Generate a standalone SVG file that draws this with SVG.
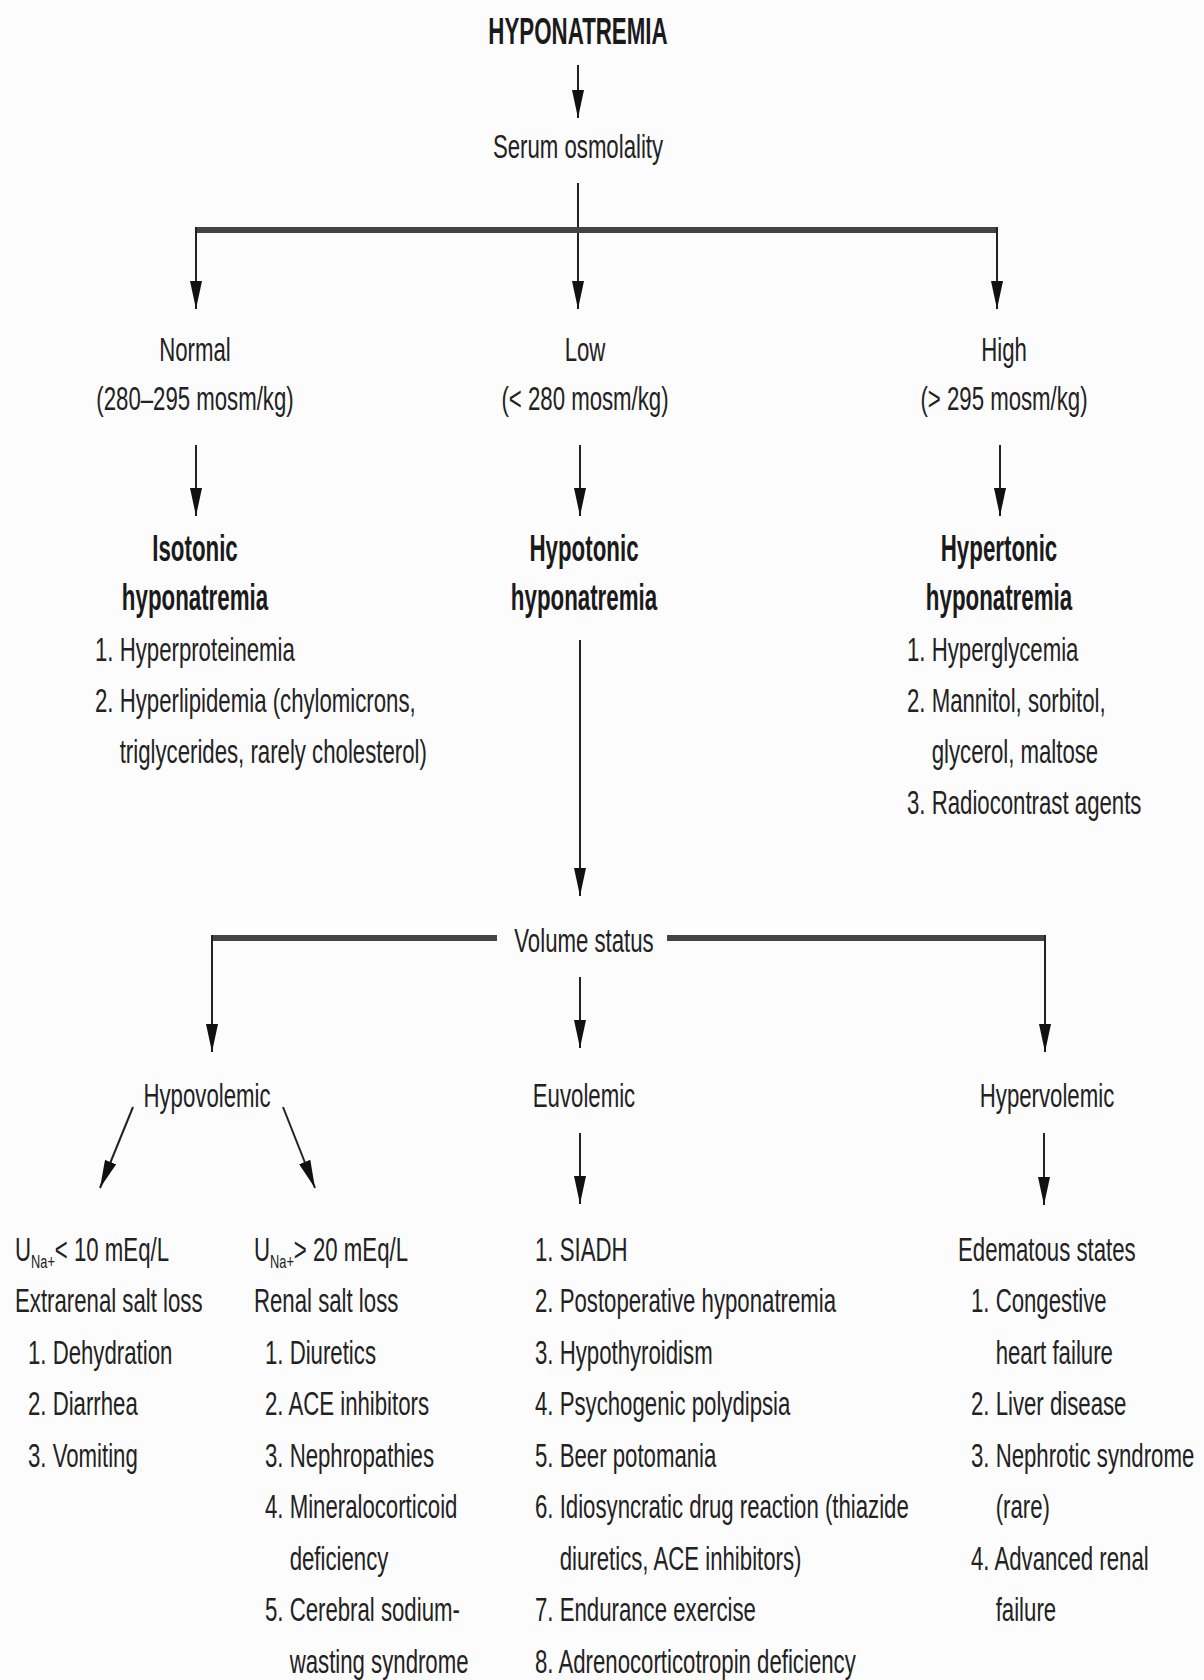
<svg xmlns="http://www.w3.org/2000/svg" width="1204" height="1680" viewBox="0 0 1204 1680">
<style>
.t{font-family:"Liberation Sans",Arial,sans-serif;font-size:33px;fill:#222}
.b{font-family:"Liberation Sans",Arial,sans-serif;font-size:36px;font-weight:bold;fill:#1a1a1a;text-anchor:middle}
.c{text-anchor:middle}
.sub{font-size:19px}
.ln{stroke:#222;stroke-width:2;fill:none}
.ar{stroke:#222;stroke-width:2;fill:none;marker-end:url(#ah)}
.bar{stroke:#444;stroke-width:6;fill:none}
</style>
<defs>
<marker id="ah" markerUnits="userSpaceOnUse" markerWidth="30" markerHeight="12" refX="28" refY="6" orient="auto">
<path d="M0,0 L28,6 L0,12 Z" fill="#111"/>
</marker>
</defs>
<rect width="1204" height="1680" fill="#fdfcfd"/>

<g id="connectors">
<line class="ar" x1="578" y1="65" x2="578" y2="118"/>
<line class="ar" x1="578" y1="183" x2="578" y2="309"/>
<line class="bar" x1="196" y1="230" x2="997" y2="230"/>
<line class="ar" x1="196" y1="227" x2="196" y2="309"/>
<line class="ar" x1="997" y1="227" x2="997" y2="309"/>
<line class="ar" x1="196" y1="445" x2="196" y2="516"/>
<line class="ar" x1="580" y1="445" x2="580" y2="516"/>
<line class="ar" x1="1000" y1="445" x2="1000" y2="516"/>
<line class="ar" x1="580" y1="640" x2="580" y2="896"/>
<line class="bar" x1="212" y1="938" x2="497" y2="938"/>
<line class="bar" x1="667" y1="938" x2="1045" y2="938"/>
<line class="ar" x1="212" y1="935" x2="212" y2="1052"/>
<line class="ar" x1="1045" y1="935" x2="1045" y2="1052"/>
<line class="ar" x1="580" y1="977" x2="580" y2="1048"/>
<line class="ar" x1="133" y1="1107" x2="100" y2="1188"/>
<line class="ar" x1="283" y1="1107" x2="315" y2="1188"/>
<line class="ar" x1="580" y1="1133" x2="580" y2="1204"/>
<line class="ar" x1="1044" y1="1133" x2="1044" y2="1205"/>
</g>

<g id="hyponatremia" transform="translate(578,0) scale(0.62,1)">
<text class="b" x="0" y="44">HYPONATREMIA</text>
</g>
<g id="serum-osmolality" transform="translate(578,0) scale(0.673,1)">
<text class="t c" x="0" y="158">Serum osmolality</text>
</g>
<g id="normal" transform="translate(195,0) scale(0.673,1)">
<text class="t c" x="0" y="361">Normal</text>
<text class="t c" x="0" y="410">(280–295 mosm/kg)</text>
</g>
<g id="low" transform="translate(585,0) scale(0.673,1)">
<text class="t c" x="0" y="361">Low</text>
<text class="t c" x="0" y="410">(&lt; 280 mosm/kg)</text>
</g>
<g id="high" transform="translate(1004,0) scale(0.673,1)">
<text class="t c" x="0" y="361">High</text>
<text class="t c" x="0" y="410">(&gt; 295 mosm/kg)</text>
</g>

<g id="isotonic">
<g transform="translate(195,0) scale(0.62,1)">
<text class="b" x="0" y="561">Isotonic</text>
<text class="b" x="0" y="610">hyponatremia</text>
</g>
<g transform="translate(95,0) scale(0.673,1)">
<text class="t" x="0" y="661">1. Hyperproteinemia</text>
<text class="t" x="0" y="712">2. Hyperlipidemia (chylomicrons,</text>
<text class="t" x="36.7" y="763">triglycerides, rarely cholesterol)</text>
</g>
</g>

<g id="hypotonic" transform="translate(584,0) scale(0.62,1)">
<text class="b" x="0" y="561">Hypotonic</text>
<text class="b" x="0" y="610">hyponatremia</text>
</g>

<g id="hypertonic">
<g transform="translate(999,0) scale(0.62,1)">
<text class="b" x="0" y="561">Hypertonic</text>
<text class="b" x="0" y="610">hyponatremia</text>
</g>
<g transform="translate(907,0) scale(0.673,1)">
<text class="t" x="0" y="661">1. Hyperglycemia</text>
<text class="t" x="0" y="712">2. Mannitol, sorbitol,</text>
<text class="t" x="36.7" y="763">glycerol, maltose</text>
<text class="t" x="0" y="814">3. Radiocontrast agents</text>
</g>
</g>

<g id="volume-status" transform="translate(584,0) scale(0.673,1)">
<text class="t c" x="0" y="952">Volume status</text>
</g>
<g id="hypovolemic" transform="translate(207,0) scale(0.673,1)">
<text class="t c" x="0" y="1107">Hypovolemic</text>
</g>
<g id="euvolemic" transform="translate(584,0) scale(0.673,1)">
<text class="t c" x="0" y="1107">Euvolemic</text>
</g>
<g id="hypervolemic" transform="translate(1047,0) scale(0.673,1)">
<text class="t c" x="0" y="1107">Hypervolemic</text>
</g>

<g id="extrarenal" transform="translate(15,0) scale(0.673,1)">
<text class="t" x="0" y="1261">U<tspan class="sub" dy="7">Na+</tspan><tspan dy="-7">&lt; 10 mEq/L</tspan></text>
<text class="t" x="0" y="1312.5">Extrarenal salt loss</text>
<text class="t" x="19.3" y="1364">1. Dehydration</text>
<text class="t" x="19.3" y="1415.5">2. Diarrhea</text>
<text class="t" x="19.3" y="1467">3. Vomiting</text>
</g>

<g id="renal" transform="translate(254,0) scale(0.673,1)">
<text class="t" x="0" y="1261">U<tspan class="sub" dy="7">Na+</tspan><tspan dy="-7">&gt; 20 mEq/L</tspan></text>
<text class="t" x="0" y="1312.5">Renal salt loss</text>
<text class="t" x="16.3" y="1364">1. Diuretics</text>
<text class="t" x="16.3" y="1415.5">2. ACE inhibitors</text>
<text class="t" x="16.3" y="1467">3. Nephropathies</text>
<text class="t" x="16.3" y="1518.5">4. Mineralocorticoid</text>
<text class="t" x="53" y="1570">deficiency</text>
<text class="t" x="16.3" y="1621.5">5. Cerebral sodium-</text>
<text class="t" x="53" y="1673">wasting syndrome</text>
</g>

<g id="euvolemic-causes" transform="translate(535,0) scale(0.673,1)">
<text class="t" x="0" y="1261">1. SIADH</text>
<text class="t" x="0" y="1312.5">2. Postoperative hyponatremia</text>
<text class="t" x="0" y="1364">3. Hypothyroidism</text>
<text class="t" x="0" y="1415.5">4. Psychogenic polydipsia</text>
<text class="t" x="0" y="1467">5. Beer potomania</text>
<text class="t" x="0" y="1518.5">6. Idiosyncratic drug reaction (thiazide</text>
<text class="t" x="36.7" y="1570">diuretics, ACE inhibitors)</text>
<text class="t" x="0" y="1621.5">7. Endurance exercise</text>
<text class="t" x="0" y="1673">8. Adrenocorticotropin deficiency</text>
</g>

<g id="edematous" transform="translate(958,0) scale(0.673,1)">
<text class="t" x="0" y="1261">Edematous states</text>
<text class="t" x="19.3" y="1312.5">1. Congestive</text>
<text class="t" x="56" y="1364">heart failure</text>
<text class="t" x="19.3" y="1415.5">2. Liver disease</text>
<text class="t" x="19.3" y="1467">3. Nephrotic syndrome</text>
<text class="t" x="56" y="1518.5">(rare)</text>
<text class="t" x="19.3" y="1570">4. Advanced renal</text>
<text class="t" x="56" y="1621.5">failure</text>
</g>
</svg>
